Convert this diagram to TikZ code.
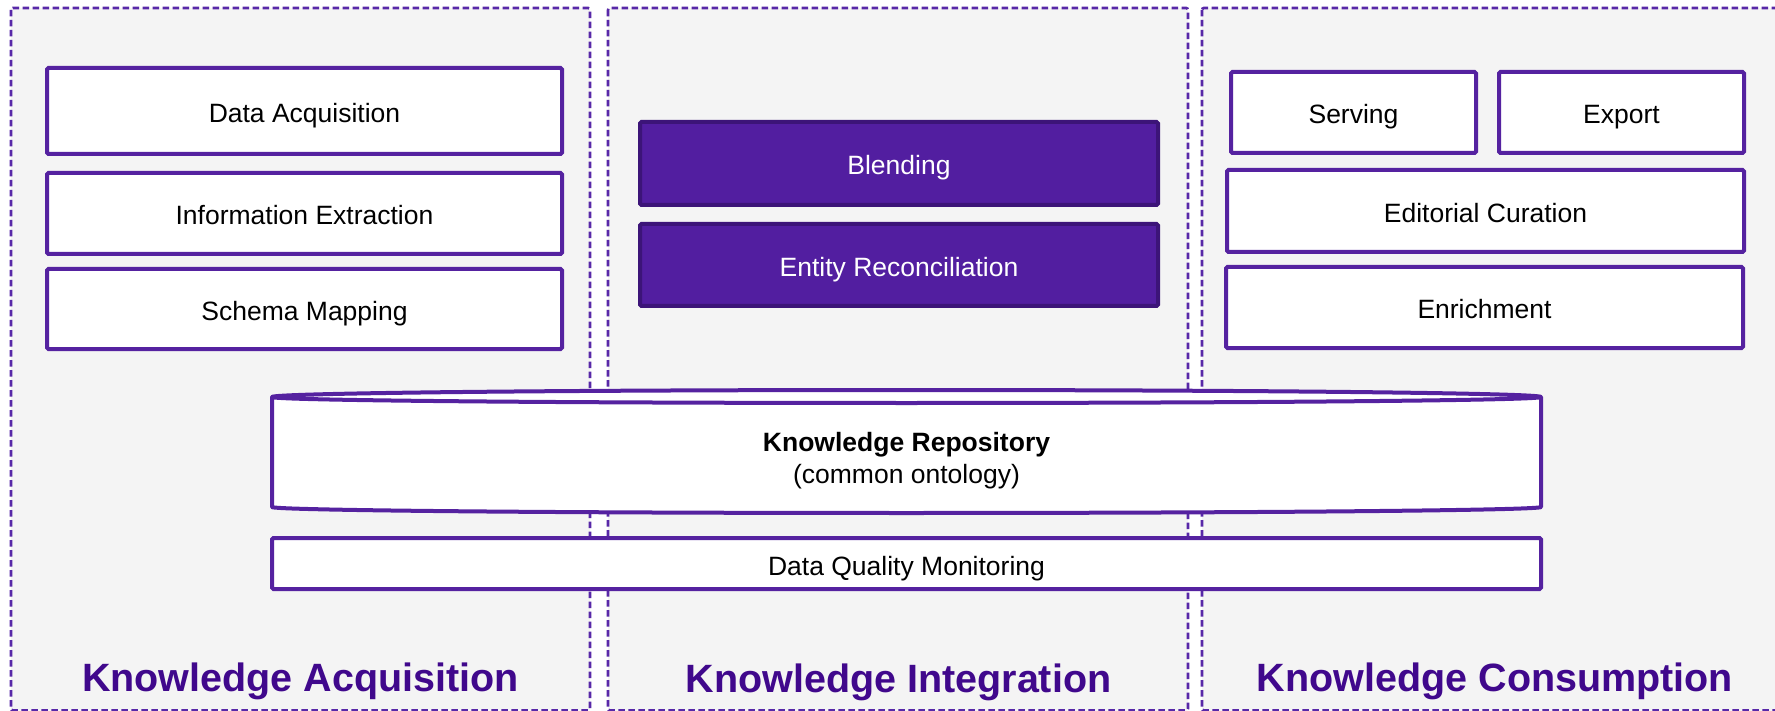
\documentclass[tikz,border=0pt]{standalone}
\usepackage{fontspec}
\setmainfont{Liberation Sans}
\definecolor{panelbg}{HTML}{F4F4F4}
\definecolor{dashcol}{RGB}{88,40,168}
\definecolor{boxcol}{RGB}{85,34,160}
\definecolor{blendfill}{RGB}{82,30,160}
\definecolor{blenddraw}{RGB}{60,20,120}
\definecolor{titlecol}{RGB}{64,8,140}
\tikzset{
  panel/.style={fill=panelbg, draw=dashcol, line width=2.7pt, dash pattern=on 6.5pt off 3.5pt, rounded corners=2pt},
  wbox/.style={draw=boxcol, fill=white, line width=4pt, rounded corners=1.5pt, inner sep=0pt,
    text height=23pt, text depth=0pt, font=\fontsize{26.5}{32}\selectfont},
  pbox/.style={wbox, draw=blenddraw, fill=blendfill, text=white},
  ptitle/.style={anchor=base, text=titlecol, inner sep=0pt, font=\fontsize{39.5}{47}\selectfont\bfseries},
  cylstyle/.style={draw=boxcol, fill=white, line width=4pt, line join=round},
  btext/.style={anchor=base, inner sep=0pt, font=\fontsize{26.5}{32}\selectfont}
}
\begin{document}
\begin{tikzpicture}[x=1pt,y=-1pt]
\useasboundingbox (0,0) rectangle (1775,711);
\clip (0,0) rectangle (1775,711);
\fill[white] (0,0) rectangle (1775,711);
% panels
\draw[panel] (11,8) rectangle (590,710.5);
\draw[panel] (608,8) rectangle (1188,710.5);
\draw[panel] (1202,8) rectangle (1790,710.5);
% acquisition boxes
\node[wbox, minimum width=515pt, minimum height=86pt] (da) at (304.5,111) {Data Acquisition};
\node[wbox, minimum width=515pt, minimum height=81pt] (ie) at (304.5,213.5) {Information Extraction};
\node[wbox, minimum width=515pt, minimum height=80pt] (sm) at (304.5,309) {Schema Mapping};
% integration boxes
\node[pbox, minimum width=518pt, minimum height=83pt] (bl) at (899,163.5) {Blending};
\node[pbox, minimum width=518pt, minimum height=82pt] (er) at (899,265) {Entity Reconciliation};
% consumption boxes
\node[wbox, minimum width=245pt, minimum height=81pt] (sv) at (1353.5,112.5) {Serving};
\node[wbox, minimum width=245pt, minimum height=81pt] (ex) at (1621.5,112.5) {Export};
\node[wbox, minimum width=517pt, minimum height=82pt] (ec) at (1485.5,211) {Editorial Curation};
\node[wbox, minimum width=517pt, minimum height=81pt] (en) at (1484.5,307.5) {Enrichment};
% repository cylinder
\draw[cylstyle] (272,397) -- (272,507)
  arc[start angle=180, end angle=360, x radius=634.5pt, y radius=6pt]
  -- (1541,397)
  arc[start angle=0, end angle=180, x radius=634.5pt, y radius=7pt] -- cycle;
\draw[cylstyle, fill=none] (272,397)
  arc[start angle=180, end angle=360, x radius=634.5pt, y radius=6pt];
\node[btext, font=\fontsize{26.5}{32}\selectfont\bfseries] (kr) at (906.5,451) {Knowledge Repository};
\node[btext] (co) at (906.5,483) {(common ontology)};
% data quality monitoring
\node[wbox, minimum width=1269pt, minimum height=51pt] (dq) at (906.5,563.5) {Data Quality Monitoring};
% titles
\node[ptitle] (t1) at (300.5,691) {Knowledge Acquisition};
\node[ptitle] (t2) at (898.5,692) {Knowledge Integration};
\node[ptitle] (t3) at (1495,691) {Knowledge Consumption};
\end{tikzpicture}
\end{document}
